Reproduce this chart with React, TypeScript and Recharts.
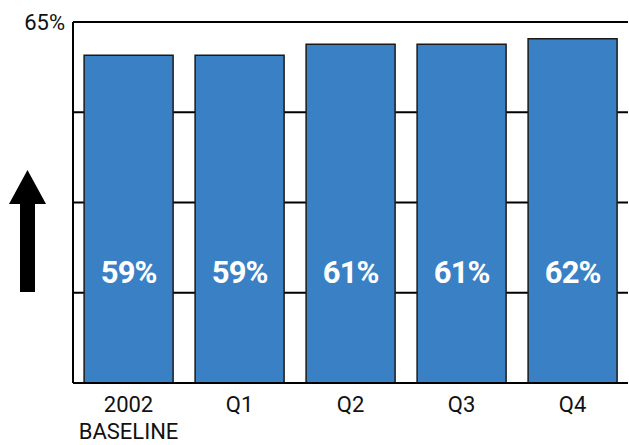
import { BarChart, Bar, XAxis, YAxis, CartesianGrid, LabelList } from "recharts";

const categories = ["2002\nBASELINE", "Q1", "Q2", "Q3", "Q4"];
const shares = [59, 59, 61, 61, 62];
const yTicks = [0, 16.25, 32.5, 48.75, 65];

const data = categories.map((c, i) => ({ cat: c, share: shares[i] }));

const font = "Roboto, 'Liberation Sans', sans-serif";

function XTick(props: any) {
  const { x, y, payload } = props;
  const lines = String(payload.value).split("\n");
  return (
    <text x={x} y={y} textAnchor="middle" fill="#111" fontSize={22} fontFamily={font}>
      {lines.map((l, i) => (
        <tspan key={i} x={x} dy={i === 0 ? 21 : 27}>{l}</tspan>
      ))}
    </text>
  );
}

function ShareLabel(props: any) {
  const { x, y, width, height, value } = props;
  return (
    <text x={x + width / 2} y={y + height - 100} textAnchor="middle" fill="#fff"
      fontSize={31} fontWeight="bold" fontFamily={font} letterSpacing={-1}>
      {value}%
    </text>
  );
}

export default function App() {
  return (
    <div style={{ position: "absolute", left: 0, top: 0, width: 629, height: 445, background: "#fff" }}>
      <svg width={50} height={300} style={{ position: "absolute", left: 0, top: 0 }}>
        <polygon points="27.5,170 46,204 35,204 35,292 20,292 20,204 9,204" fill="#000" />
      </svg>
      <BarChart width={629} height={445} data={data} margin={{ top: 22, right: 1, left: 0, bottom: 0 }}
        barCategoryGap="10%">
        <CartesianGrid vertical={false} stroke="#000" strokeWidth={2} strokeDasharray="" />
        <XAxis dataKey="cat" height={62} tick={<XTick />} tickLine={false}
          axisLine={{ stroke: "#000", strokeWidth: 2 }} interval={0} />
        <YAxis domain={[0, 65]} ticks={yTicks} width={73} tickLine={false}
          axisLine={{ stroke: "#000", strokeWidth: 2 }}
          tickFormatter={(v) => (v === 65 ? "65%" : "")}
          tick={{ fill: "#111", fontSize: 22, fontFamily: font }} />
        <Bar dataKey="share" fill="#3a80c4" stroke="#1a1a1a" strokeWidth={1.5} isAnimationActive={false}>
          <LabelList dataKey="share" content={<ShareLabel />} />
        </Bar>
      </BarChart>
    </div>
  );
}
